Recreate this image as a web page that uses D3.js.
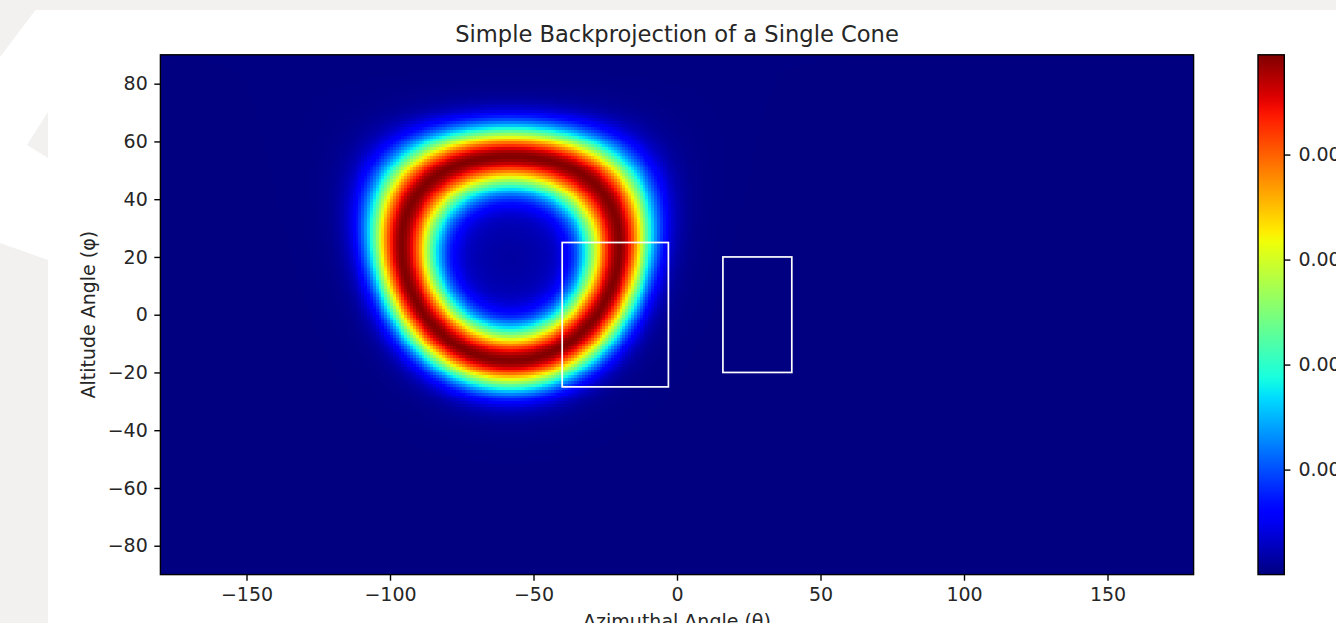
<!DOCTYPE html>
<html>
<head>
<meta charset="utf-8">
<script src="https://cdn.jsdelivr.net/npm/d3@7"></script>
<style>
  html, body { margin: 0; padding: 0; background: #ffffff; overflow: hidden; }
  svg { display: block; }
  text { font-family: "DejaVu Sans", sans-serif; fill: #262626; }
</style>
</head>
<body>
<script>
// ---------------- data ----------------
const thetaDomain = [-180, 180];          // azimuth (deg)
const phiDomain = [-90, 90];              // altitude (deg)
const xTicks = [-150, -100, -50, 0, 50, 100, 150];
const yTicks = [-80, -60, -40, -20, 0, 20, 40, 60, 80];
const gridStep = [1];                     // map resolution (deg)
const coneAxis = [-58, 19.5];             // cone axis [theta, phi] (deg)
const coneHalfAngle = [35.5];             // opening half-angle (deg)
const ringSigma = [6.9, 7.5];             // ring width [outer, inner] (deg)
const ringTail = [0.1, 9, 30];            // tail [amplitude, outer length, inner length]
const peakValue = [0.0099];
const cbDomain = [0, 0.0099];
const cbTicks = [0.002, 0.004, 0.006, 0.008];
const boxTheta = [[-40, -3], [16, 40]];
const boxPhi = [[-25, 25], [-20, 20]];
const titleText = "Simple Backprojection of a Single Cone";
const xLabel = "Azimuthal Angle (θ)";
const yLabel = "Altitude Angle (φ)";

// ---------------- layout ----------------
const W = 1336, H = 623;
const plot = { left: 160.4, right: 1193.6, top: 54.8, bottom: 574.6 };
const cb = { left: 1258, right: 1284.3 };
const fs = 19;

const svg = d3.select("body").append("svg").attr("width", W).attr("height", H);

// page backdrop (light grey frame with faint shapes)
svg.append("rect").attr("width", W).attr("height", H).attr("fill", "#ffffff");
const bgGrey = "#f2f1ef";
svg.append("rect").attr("x", 0).attr("y", 0).attr("width", W).attr("height", 10).attr("fill", bgGrey);
svg.append("polygon").attr("points", "0,0 43,0 0,57").attr("fill", bgGrey);
svg.append("polygon").attr("points", "27,145 48,112 48,158").attr("fill", bgGrey);
svg.append("polygon").attr("points", "0,243 48,260 48,623 0,623").attr("fill", bgGrey);

const x = d3.scaleLinear().domain(thetaDomain).range([plot.left, plot.right]);
const y = d3.scaleLinear().domain(phiDomain).range([plot.bottom, plot.top]);

// jet colormap
const jr = d3.scaleLinear().domain([0, 0.35, 0.66, 0.89, 1]).range([0, 0, 1, 1, 0.5]).clamp(true);
const jg = d3.scaleLinear().domain([0, 0.125, 0.375, 0.64, 0.91, 1]).range([0, 0, 1, 1, 0, 0]).clamp(true);
const jb = d3.scaleLinear().domain([0, 0.11, 0.34, 0.65, 1]).range([0.5, 1, 1, 0, 0]).clamp(true);
const jet = t => d3.rgb(jr(t) * 255, jg(t) * 255, jb(t) * 255);
const color = d3.scaleSequential(jet).domain(cbDomain).clamp(true);

// ---------------- backprojection field ----------------
const rad = Math.PI / 180;
const step = gridStep[0];
const nx = Math.round((thetaDomain[1] - thetaDomain[0]) / step);
const ny = Math.round((phiDomain[1] - phiDomain[0]) / step);
const a0 = coneAxis[0] * rad, p0 = coneAxis[1] * rad;
const ax = [Math.cos(p0) * Math.cos(a0), Math.cos(p0) * Math.sin(a0), Math.sin(p0)];
function fieldAt(th, ph) {
  const t = th * rad, p = ph * rad;
  const c = Math.cos(p) * Math.cos(t) * ax[0] + Math.cos(p) * Math.sin(t) * ax[1] + Math.sin(p) * ax[2];
  const psi = Math.acos(Math.max(-1, Math.min(1, c))) / rad;
  const d = psi - coneHalfAngle[0];
  let g;
  if (d >= 0) g = Math.exp(-d * d / (2 * ringSigma[0] ** 2)) + ringTail[0] * Math.exp(-d / ringTail[1]);
  else g = Math.exp(-d * d / (2 * ringSigma[1] ** 2)) + ringTail[0] * Math.exp(d / ringTail[2]);
  return peakValue[0] * g / (1 + ringTail[0]);
}

const canvas = document.createElement("canvas");
canvas.width = nx; canvas.height = ny;
const ctx = canvas.getContext("2d");
const img = ctx.createImageData(nx, ny);
for (let j = 0; j < ny; j++) {
  const ph = phiDomain[1] - (j + 0.5) * step;
  for (let i = 0; i < nx; i++) {
    const th = thetaDomain[0] + (i + 0.5) * step;
    const c = d3.rgb(color(fieldAt(th, ph)));
    const k = (j * nx + i) * 4;
    img.data[k] = c.r; img.data[k + 1] = c.g; img.data[k + 2] = c.b; img.data[k + 3] = 255;
  }
}
ctx.putImageData(img, 0, 0);

svg.append("image")
  .attr("x", x(thetaDomain[0])).attr("y", y(phiDomain[1]))
  .attr("width", x(thetaDomain[1]) - x(thetaDomain[0]))
  .attr("height", y(phiDomain[0]) - y(phiDomain[1]))
  .attr("preserveAspectRatio", "none")
  .style("image-rendering", "pixelated")
  .attr("href", canvas.toDataURL());

// boxes
svg.append("g").selectAll("rect").data(boxTheta.map((b, i) => ({ th: b, ph: boxPhi[i] })))
  .join("rect")
  .attr("x", d => x(d.th[0])).attr("y", d => y(d.ph[1]))
  .attr("width", d => x(d.th[1]) - x(d.th[0]))
  .attr("height", d => y(d.ph[0]) - y(d.ph[1]))
  .attr("fill", "none").attr("stroke", "#ffffff").attr("stroke-width", 1.7);

// frame
svg.append("rect")
  .attr("x", plot.left).attr("y", plot.top)
  .attr("width", plot.right - plot.left).attr("height", plot.bottom - plot.top)
  .attr("fill", "none").attr("stroke", "#000").attr("stroke-width", 1.4);

// axes
const tickLen = 6.1, tickPad = 6.5;
const fmt = d => d3.format("")(d).replace("-", "\u2212");
const xAxis = svg.append("g").attr("transform", `translate(0,${plot.bottom})`)
  .call(d3.axisBottom(x).tickValues(xTicks).tickFormat(fmt).tickSize(tickLen).tickPadding(tickPad));
const yAxis = svg.append("g").attr("transform", `translate(${plot.left},0)`)
  .call(d3.axisLeft(y).tickValues(yTicks).tickFormat(fmt).tickSize(tickLen).tickPadding(tickPad));
[xAxis, yAxis].forEach(g => {
  g.select(".domain").remove();
  g.selectAll(".tick line").attr("stroke", "#000").attr("stroke-width", 1.4);
  g.selectAll(".tick text").attr("font-family", "DejaVu Sans").attr("font-size", fs).attr("fill", "#262626");
});

// titles
svg.append("text").attr("x", (plot.left + plot.right) / 2).attr("y", 42)
  .attr("text-anchor", "middle").attr("font-size", 22.6).text(titleText);
svg.append("text").attr("x", (plot.left + plot.right) / 2).attr("y", 628)
  .attr("text-anchor", "middle").attr("font-size", fs).text(xLabel);
svg.append("text").attr("transform", `translate(95,${(plot.top + plot.bottom) / 2}) rotate(-90)`)
  .attr("text-anchor", "middle").attr("font-size", fs).text(yLabel);

// ---------------- colorbar ----------------
const cy = d3.scaleLinear().domain(cbDomain).range([plot.bottom, plot.top]);
const defs = svg.append("defs");
const grad = defs.append("linearGradient").attr("id", "cbgrad")
  .attr("x1", 0).attr("y1", 1).attr("x2", 0).attr("y2", 0);
d3.range(0, 1.0001, 0.02).forEach(t => {
  grad.append("stop").attr("offset", t).attr("stop-color", jet(t).formatHex());
});
svg.append("rect").attr("x", cb.left).attr("y", plot.top)
  .attr("width", cb.right - cb.left).attr("height", plot.bottom - plot.top)
  .attr("fill", "url(#cbgrad)").attr("stroke", "#000").attr("stroke-width", 1.4);
const cbAxis = svg.append("g").attr("transform", `translate(${cb.right},0)`)
  .call(d3.axisRight(cy).tickValues(cbTicks).tickFormat(d3.format(".3f")).tickSize(tickLen).tickPadding(tickPad + 1.5));
cbAxis.select(".domain").remove();
cbAxis.selectAll(".tick line").attr("stroke", "#000").attr("stroke-width", 1.4);
cbAxis.selectAll(".tick text").attr("font-family", "DejaVu Sans").attr("font-size", fs).attr("fill", "#262626");
</script>
</body>
</html>
